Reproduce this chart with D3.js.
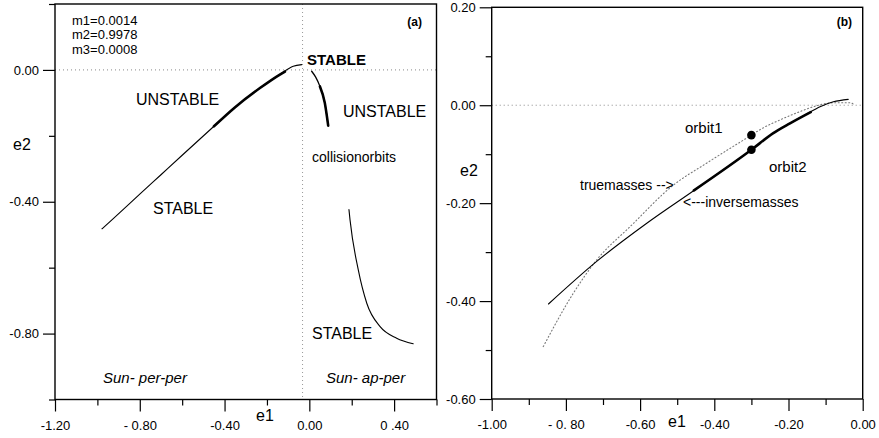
<!DOCTYPE html>
<html>
<head>
<meta charset="utf-8">
<script src="https://cdn.jsdelivr.net/npm/d3@7"></script>
<style>
  body { margin: 0; background: #fff; }
  svg text { font-family: "Liberation Sans", Arial, sans-serif; fill: #000; }
</style>
</head>
<body>
<svg id="chart" width="879" height="438"></svg>
<script>
// ---- panel (a) data: [e1, e2]
const aMain = [[-0.978,-0.482],[-0.925,-0.451],[-0.80,-0.377],[-0.70,-0.318],[-0.60,-0.259],
  [-0.45,-0.171],[-0.35,-0.113],[-0.233,-0.055],[-0.139,-0.014],[-0.076,0.011],[-0.036,0.016]];
const aMainBold = [[-0.45,-0.171],[-0.35,-0.113],[-0.233,-0.055],[-0.139,-0.014],[-0.115,-0.005]];
const aRight = [[0.011,-0.004],[0.03,-0.022],[0.05,-0.05],[0.073,-0.10],[0.089,-0.169]];
const aRightBold = [[0.05,-0.05],[0.073,-0.10],[0.089,-0.169]];
const aLower = [[0.187,-0.424],[0.192,-0.455],[0.231,-0.607],[0.271,-0.708],[0.334,-0.779],[0.412,-0.814],[0.490,-0.831]];
const aVline = -0.032;
const aXTicks = [-1.2, -0.8, -0.4, 0.0, 0.4];
const aXLabels = ["-1.20", "- 0.80", "-0.40", "0.00", "0 .40"];
const aXMinor = [-1.0, -0.6, -0.2, 0.2, 0.6];
const aYTicks = [0.0, -0.4, -0.8];
const aYLabels = ["0.00", "-0.40", "-0.80"];
const aYMinor = [0.2, -0.2, -0.6, -1.0];

// ---- panel (b) data
const bInverse = [[-0.847,-0.406],[-0.717,-0.319],[-0.582,-0.241],[-0.447,-0.170],[-0.30,-0.091],
  [-0.241,-0.057],[-0.196,-0.037],[-0.151,-0.018],[-0.115,-0.003],[-0.079,0.007],[-0.039,0.012]];
const bInverseBold = [[-0.455,-0.174],[-0.30,-0.091],[-0.241,-0.057],[-0.196,-0.037],[-0.14,-0.014]];
const bTrue = [[-0.861,-0.493],[-0.780,-0.384],[-0.717,-0.316],[-0.627,-0.248],[-0.510,-0.163],
  [-0.420,-0.118],[-0.30,-0.061],[-0.277,-0.050],[-0.223,-0.030],[-0.169,-0.013],[-0.124,-0.001],
  [-0.079,0.005],[-0.034,0.005],[-0.021,0.0]];
const bOrbits = [[-0.30,-0.061],[-0.30,-0.091]];
const bXTicks = [-1.0, -0.8, -0.6, -0.4, -0.2, 0.0];
const bXLabels = ["-1.00", "- 0. 80", "-0.60", "-0.40", "-0.20", "0.00"];
const bXMinor = [-0.9, -0.7, -0.5, -0.3, -0.1];
const bYTicks = [0.2, 0.0, -0.2, -0.4, -0.6];
const bYLabels = ["0.20", "0.00", "-0.20", "-0.40", "-0.60"];
const bYMinor = [0.1, -0.1, -0.3, -0.5];

const svg = d3.select("#chart");
svg.append("rect").attr("width", 879).attr("height", 438).attr("fill", "#fff");

// draws frame, axes, minor ticks, reference lines; returns scales
function drawFrame(g, xDom, xRange, yDom, yRange, opt) {
  const x = d3.scaleLinear().domain(xDom).range(xRange);
  const y = d3.scaleLinear().domain(yDom).range(yRange);

  // dotted reference lines
  g.append("line")
    .attr("x1", xRange[0]).attr("x2", xRange[1])
    .attr("y1", y(0)).attr("y2", y(0))
    .attr("stroke", "#888").attr("stroke-width", 1).attr("stroke-dasharray", "1,3");
  if (opt.vline !== undefined) {
    g.append("line")
      .attr("x1", x(opt.vline)).attr("x2", x(opt.vline))
      .attr("y1", yRange[1]).attr("y2", yRange[0])
      .attr("stroke", "#999").attr("stroke-width", 1).attr("stroke-dasharray", "1,3");
  }

  const xAxis = d3.axisBottom(x).tickValues(opt.xTicks).tickSize(12).tickPadding(9)
    .tickFormat((d, i) => opt.xLabels[i]);
  const yAxis = d3.axisLeft(y).tickValues(opt.yTicks).tickSize(12).tickPadding(4)
    .tickFormat((d, i) => opt.yLabels[i]);

  g.append("g").attr("transform", `translate(0,${yRange[0]})`).call(xAxis);
  g.append("g").attr("transform", `translate(${xRange[0]},0)`).call(yAxis);
  g.append("g").attr("transform", `translate(0,${yRange[0]})`)
    .call(d3.axisBottom(x).tickValues(opt.xMinor).tickSize(6).tickFormat(""));
  g.append("g").attr("transform", `translate(${xRange[0]},0)`)
    .call(d3.axisLeft(y).tickValues(opt.yMinor).tickSize(6).tickFormat(""));

  g.selectAll(".domain").remove();
  g.selectAll(".tick line").attr("stroke", "#000").attr("stroke-width", 1.2);
  g.selectAll(".tick text").attr("font-size", 13).attr("fill", "#000")
    .style("font-family", "'Liberation Sans', Arial, sans-serif");

  // frame
  g.append("rect")
    .attr("x", xRange[0]).attr("y", yRange[1])
    .attr("width", xRange[1] - xRange[0]).attr("height", yRange[0] - yRange[1])
    .attr("fill", "none").attr("stroke", "#000").attr("stroke-width", 1.4);
  return { x, y };
}

function drawCurve(g, s, pts, width, dash, color) {
  const line = d3.line().x(d => s.x(d[0])).y(d => s.y(d[1])).curve(d3.curveMonotoneX);
  g.append("path").datum(pts).attr("d", line)
    .attr("fill", "none").attr("stroke", color || "#000").attr("stroke-width", width)
    .attr("stroke-dasharray", dash || null).attr("stroke-linecap", "round");
}

function label(g, txt, x, y, size, extra) {
  const t = g.append("text").attr("x", x).attr("y", y).attr("font-size", size).text(txt);
  if (extra) {
    if (extra.weight) t.attr("font-weight", extra.weight);
    if (extra.style) t.attr("font-style", extra.style);
    if (extra.anchor) t.attr("text-anchor", extra.anchor);
  }
  return t;
}

// ---------------- panel (a)
const ga = svg.append("g");
const sa = drawFrame(ga, [-1.2, 0.6], [55, 436.5], [-1.0, 0.2], [399.5, 4], {
  vline: aVline, xTicks: aXTicks, xLabels: aXLabels, xMinor: aXMinor,
  yTicks: aYTicks, yLabels: aYLabels, yMinor: aYMinor
});
drawCurve(ga, sa, aMain, 1.1);
drawCurve(ga, sa, aMainBold, 2.6);
drawCurve(ga, sa, aRight, 1.3);
drawCurve(ga, sa, aRightBold, 2.6);
drawCurve(ga, sa, aLower, 1.1);

label(ga, "m1=0.0014", 72, 24.5, 13);
label(ga, "m2=0.9978", 72, 39.1, 13);
label(ga, "m3=0.0008", 72, 53.7, 13);
label(ga, "(a)", 422, 25.5, 12, { weight: "bold", anchor: "end" });
label(ga, "STABLE", 307, 64.5, 15, { weight: "bold" });
label(ga, "UNSTABLE", 136, 104.5, 16);
label(ga, "UNSTABLE", 343, 117, 16);
label(ga, "collisionorbits", 312, 162, 14);
label(ga, "STABLE", 153, 214, 16);
label(ga, "STABLE", 312, 338.5, 16);
label(ga, "Sun- per-per", 103, 383, 15, { style: "italic" });
label(ga, "Sun- ap-per", 326, 383, 15, { style: "italic" });
label(ga, "e1", 265, 420.5, 16, { anchor: "middle" });
label(ga, "e2", 13, 150, 16);

// ---------------- panel (b)
const gb = svg.append("g");
const sb = drawFrame(gb, [-1.0, 0.0], [491.7, 862.7], [-0.6, 0.2], [399, 7.3], {
  xTicks: bXTicks, xLabels: bXLabels, xMinor: bXMinor,
  yTicks: bYTicks, yLabels: bYLabels, yMinor: bYMinor
});
drawCurve(gb, sb, bTrue, 1.1, "1,2.5", "#777");
drawCurve(gb, sb, bInverse, 1.1);
drawCurve(gb, sb, bInverseBold, 2.6);
gb.selectAll("circle.orbit").data(bOrbits).enter().append("circle")
  .attr("class", "orbit")
  .attr("cx", d => sb.x(d[0])).attr("cy", d => sb.y(d[1]))
  .attr("r", 4.3).attr("fill", "#000");

label(gb, "(b)", 852, 26, 12, { weight: "bold", anchor: "end" });
label(gb, "orbit1", 685, 132.5, 15);
label(gb, "orbit2", 769, 172, 15);
label(gb, "truemasses -->", 580, 190, 14);
label(gb, "<---inversemasses", 683, 206.5, 14);
label(gb, "e1", 677, 426.5, 16, { anchor: "middle" });
label(gb, "e2", 460, 176, 16);
</script>
</body>
</html>
